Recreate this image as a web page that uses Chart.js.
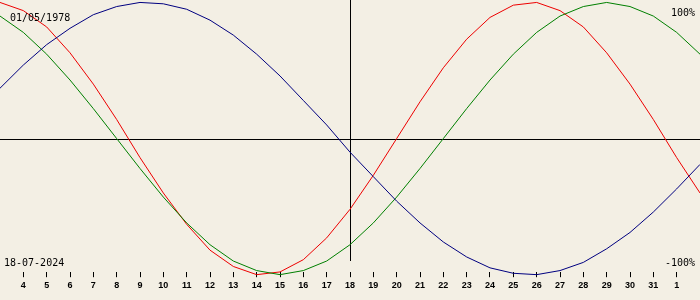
<!DOCTYPE html>
<html>
<head>
<meta charset="utf-8">
<script src="https://cdn.jsdelivr.net/npm/chart.js@4/dist/chart.umd.min.js"></script>
<style>
  body { margin: 0; background: #f3efe4; }
  #wrap { width: 700px; height: 300px; }
</style>
</head>
<body>
<div id="wrap"><canvas id="bio" width="700" height="300"></canvas></div>
<script>
// days of July 2024 (32, 33 = 1, 2 August)
var days = [3, 4, 5, 6, 7, 8, 9, 10, 11, 12, 13, 14, 15, 16, 17, 18, 19, 20, 21, 22, 23, 24, 25, 26, 27, 28, 29, 30, 31, 32, 33];

var physical = [100, 94, 82, 63, 40, 14, -14, -40, -63, -82, -94, -100, -98, -89, -73, -52, -27, 0, 27, 52, 73, 89, 98, 100, 94, 82, 63, 40, 14, -14, -40];
var emotional = [90, 78, 62, 43, 22, 0, -22, -43, -62, -78, -90, -97, -100, -97, -90, -78, -62, -43, -22, 0, 22, 43, 62, 78, 90, 97, 100, 97, 90, 78, 62];
var intellectual = [37, 54, 69, 81, 91, 97, 100, 99, 95, 87, 76, 62, 46, 28, 10, -10, -28, -46, -62, -76, -87, -95, -99, -100, -97, -91, -81, -69, -54, -37, -19];

var today = 18;
var birthLabel = '01/05/1978';
var dateLabel = '18-07-2024';
var topLabel = '100%';
var bottomLabel = '-100%';

function toPoints(values) {
    return days.map(function (d, i) { return { x: d, y: values[i] }; });
}

var bgPlugin = {
    id: 'bg',
    beforeDraw: function (chart) {
        var c = chart.ctx;
        c.save();
        c.fillStyle = '#f3efe4';
        c.fillRect(0, 0, chart.width, chart.height);
        c.restore();
    },
    beforeDatasetsDraw: function (chart) {
        var c = chart.ctx;
        var x = Math.round(chart.scales.x.getPixelForValue(today)) + 0.5;
        var y = Math.round(chart.scales.y.getPixelForValue(0)) + 0.5;
        c.save();
        c.strokeStyle = '#000';
        c.lineWidth = 1;
        c.beginPath();
        c.moveTo(0, y);
        c.lineTo(chart.width, y);
        c.moveTo(x, 0);
        c.lineTo(x, 261);
        c.stroke();
        c.restore();
    },
    afterDraw: function (chart) {
        var c = chart.ctx;
        c.save();
        c.fillStyle = '#000';
        c.font = '10px "DejaVu Sans Mono"';
        c.textBaseline = 'alphabetic';
        c.textAlign = 'left';
        c.fillText(birthLabel, 10, 21);
        c.fillText(dateLabel, 4, 266);
        c.textAlign = 'right';
        c.fillText(topLabel, 695, 16);
        c.fillText(bottomLabel, 695, 266);
        c.restore();
    }
};

new Chart(document.getElementById('bio').getContext('2d'), {
    type: 'line',
    data: {
        datasets: [
            { data: toPoints(intellectual), borderColor: '#000080' },
            { data: toPoints(emotional), borderColor: '#008000' },
            { data: toPoints(physical), borderColor: '#ee0000' }
        ]
    },
    options: {
        responsive: false,
        animation: false,
        devicePixelRatio: 1,
        layout: { padding: { left: 0, right: 0, top: 0, bottom: 6 } },
        elements: {
            line: { borderWidth: 1, tension: 0 },
            point: { radius: 0 }
        },
        datasets: { line: { clip: false } },
        plugins: { legend: { display: false }, tooltip: { enabled: false } },
        scales: {
            x: {
                type: 'linear',
                min: 3,
                max: 33,
                border: { display: false },
                grid: { drawOnChartArea: false, drawTicks: true, tickLength: 5, color: '#000', tickColor: '#000' },
                afterBuildTicks: function (axis) {
                    axis.ticks = axis.ticks.filter(function (t) { return t.value > 3 && t.value < 33; });
                },
                ticks: {
                    stepSize: 1,
                    autoSkip: false,
                    maxRotation: 0,
                    padding: 3,
                    color: '#000',
                    font: { family: 'Liberation Sans', size: 9, weight: 'bold' },
                    callback: function (v) { return v > 31 ? String(v - 31) : String(v); }
                }
            },
            y: {
                display: false,
                min: -98.2,
                max: 101.8
            }
        }
    },
    plugins: [bgPlugin]
});
</script>
</body>
</html>
